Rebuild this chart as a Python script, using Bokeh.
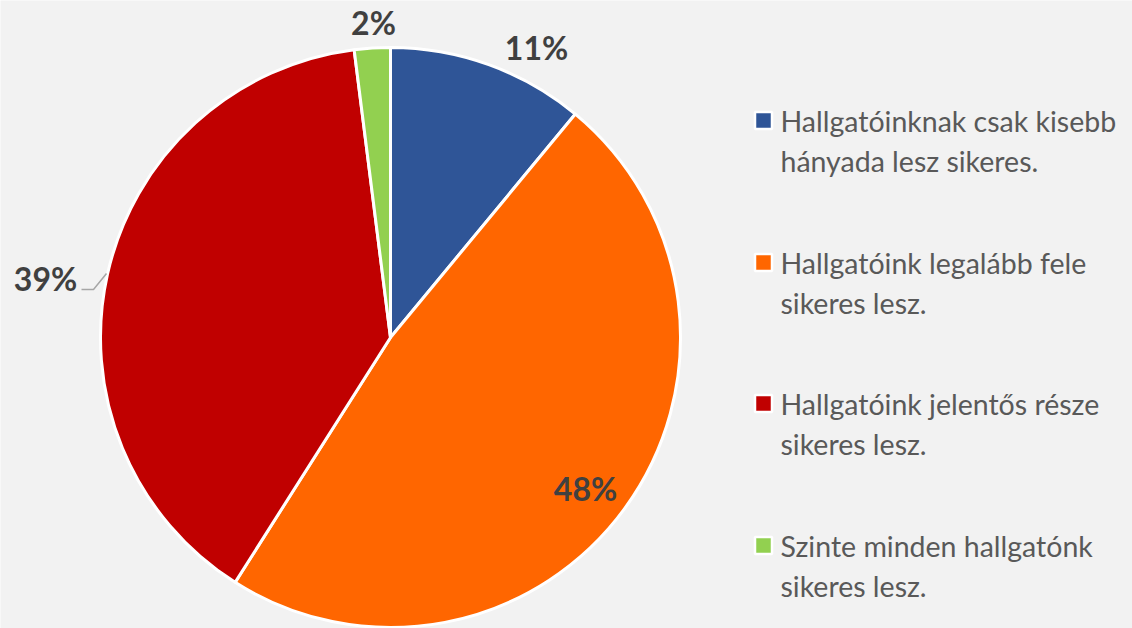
import math
from bokeh.plotting import figure
from bokeh.models import ColumnDataSource
from bokeh.core.properties import value
from bokeh.embed import file_html
from bokeh.resources import INLINE

# ---- data ----
categories = [
    "Hallgatóinknak csak kisebb\nhányada lesz sikeres.",
    "Hallgatóink legalább fele\nsikeres lesz.",
    "Hallgatóink jelentős része\nsikeres lesz.",
    "Szinte minden hallgatónk\nsikeres lesz.",
]
shares = [11, 48, 39, 2]
pct_labels = ["11%", "48%", "39%", "2%"]
colors = ["#2F5597", "#FF6600", "#C00000", "#92D050"]

# ---- layout (pixel space of the figure, y up) ----
W, H = 1132, 628
cx, cy, R = 390, 291, 290
label_pos = [(536, 581), (585, 140), (45, 350), (373, 606)]
legend_x_marker, legend_x_text = 763, 780
legend_y_first = [508, 366, 225, 83]  # y (data) of first line of each item
line_gap = 40

p = figure(width=W, height=H, x_range=(0, W), y_range=(0, H),
           output_backend="svg", toolbar_location=None, min_border=0,
           background_fill_color="#F2F2F2", border_fill_color="#F2F2F2",
           outline_line_color=None)
p.axis.visible = False
p.grid.visible = False

total = sum(shares)
starts, ends = [], []
cum = 0
for s in shares:
    starts.append(math.radians(90 - cum * 360 / total))
    cum += s
    ends.append(math.radians(90 - cum * 360 / total))

src = ColumnDataSource(dict(start=starts, end=ends, color=colors))
p.wedge(x=cx, y=cy, radius=R, start_angle="start", end_angle="end",
        direction="clock", fill_color="color", line_color="white",
        line_width=3, source=src)

# data labels
p.text(x=[q[0] for q in label_pos], y=[q[1] for q in label_pos], text=pct_labels,
       text_font=value("Lato"), text_font_style="bold", text_font_size="32px",
       text_color="#404040", text_align="center", text_baseline="middle")
# leader line for 39%
p.line(x=[81, 93, 106], y=[339, 339, 355], line_color="#A6A6A6", line_width=1.5)

# legend
p.rect(x=[legend_x_marker] * 4, y=legend_y_first, width=17, height=17,
       fill_color=colors, line_color="white", line_width=2.5)
lx, ly, lt = [], [], []
for yy, cat in zip(legend_y_first, categories):
    for i, line in enumerate(cat.split("\n")):
        lx.append(legend_x_text)
        ly.append(yy - i * line_gap)
        lt.append(line)
p.text(x=lx, y=ly, text=lt, text_font=value("Lato"), text_font_size="28.5px",
       text_color="#595959", text_align="left", text_baseline="middle")

html = file_html(p, INLINE)
open("out.html", "w").write(html)
